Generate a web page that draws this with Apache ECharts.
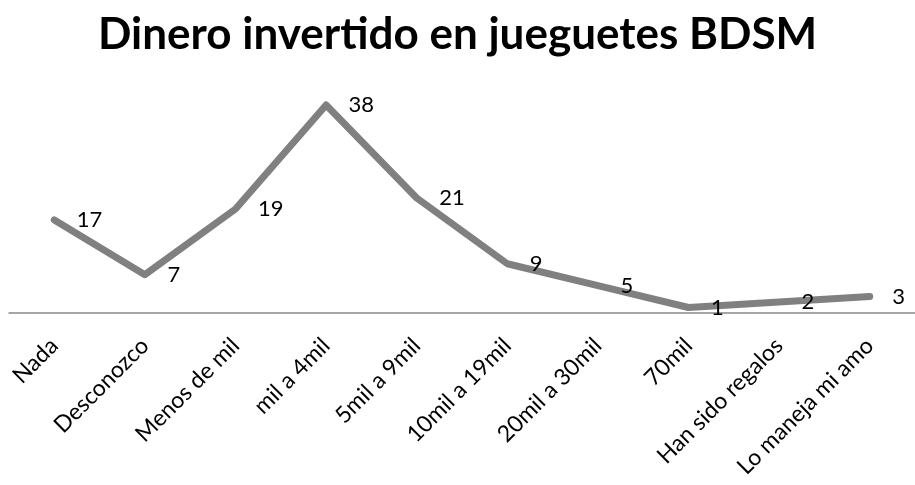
<!DOCTYPE html>
<html>
<head>
<meta charset="utf-8">
<script src="https://cdn.jsdelivr.net/npm/echarts@6/dist/echarts.min.js"></script>
<style>
  html, body { margin: 0; padding: 0; background: #ffffff; }
  #chart { width: 915px; height: 485px; }
</style>
</head>
<body>
<div id="chart"></div>
<script>
// Spending categories and number of answers for each
const categories = [
  'Nada', 'Desconozco', 'Menos de mil', 'mil a 4mil', '5mil a 9mil',
  '10mil a 19mil', '20mil a 30mil', '70mil', 'Han sido regalos', 'Lo maneja mi amo'
];
const counts = [17, 7, 19, 38, 21, 9, 5, 1, 2, 3];
const titleText = 'Dinero invertido en jueguetes BDSM';

const font = 'Lato, "Open Sans", sans-serif';
const chart = echarts.init(document.getElementById('chart'), null, { renderer: 'canvas' });

chart.setOption({
  backgroundColor: '#ffffff',
  animation: false,
  title: {
    text: titleText,
    left: 'center',
    top: 8,
    textStyle: { fontFamily: font, fontWeight: 'bold', fontSize: 44, color: '#000000' }
  },
  grid: { left: 9, right: -7, top: 94, bottom: 172, containLabel: false },
  xAxis: {
    type: 'category',
    data: categories,
    boundaryGap: true,
    axisLine: { lineStyle: { color: '#898989', width: 1.5 } },
    axisTick: { show: false },
    axisLabel: {
      interval: 0,
      rotate: 45,
      margin: 29,
      fontFamily: font,
      fontSize: 23,
      color: '#000000'
    }
  },
  yAxis: {
    type: 'value',
    min: 0,
    max: 40,
    show: false,
    splitLine: { show: false }
  },
  series: [{
    type: 'line',
    data: counts,
    symbol: 'circle',
    symbolSize: 1,
    itemStyle: { color: '#808080' },
    lineStyle: { color: '#808080', width: 7, cap: 'round', join: 'round' },
    label: {
      show: true,
      position: 'right',
      distance: 22,
      fontFamily: font,
      fontSize: 22,
      color: '#000000'
    }
  }]
});
</script>
</body>
</html>
